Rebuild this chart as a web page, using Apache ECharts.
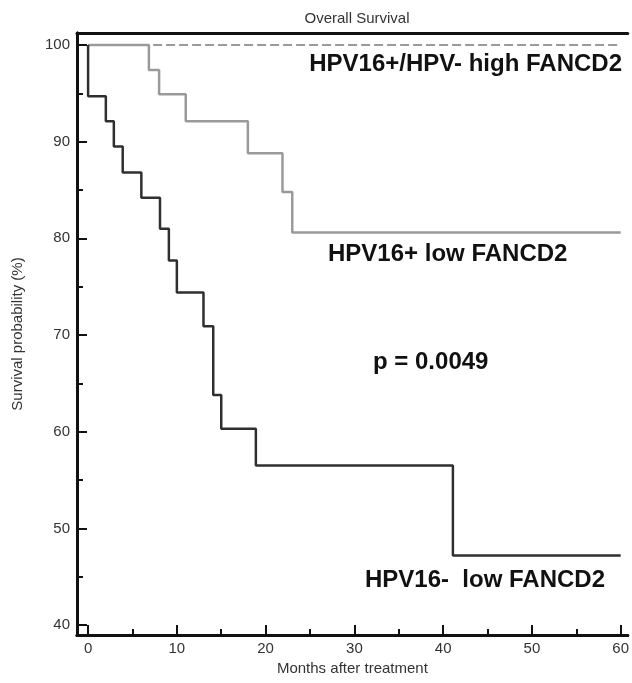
<!DOCTYPE html>
<html>
<head>
<meta charset="utf-8">
<script src="https://cdn.jsdelivr.net/npm/echarts@6/dist/echarts.min.js"></script>
<style>
html,body{margin:0;padding:0;background:#fff;}
#chart{width:632px;height:683px;}
</style>
</head>
<body>
<div id="chart"></div>
<script>
// Kaplan-Meier steps: [month of event, survival (%) after event]
var lowHpvNegTimes = [0, 0, 2, 2.9, 3.9, 6, 8.1, 9.1, 10, 13, 14.1, 15, 18.9, 41.1, 60];
var lowHpvNegSurv  = [100, 94.7, 92.1, 89.5, 86.8, 84.2, 81.0, 77.7, 74.4, 70.9, 63.8, 60.3, 56.5, 47.2, 47.2];

var lowHpvPosTimes = [0, 6.85, 8, 11, 18, 21.9, 23, 60];
var lowHpvPosSurv  = [100, 97.4, 94.9, 92.1, 88.8, 84.8, 80.6, 80.6];

var highTimes = [0, 60];
var highSurv  = [100, 100];

var xMajorTicks = [0, 10, 20, 30, 40, 50, 60];
var xMinorTicks = [5, 15, 25, 35, 45, 55];
var yMajorTicks = [40, 50, 60, 70, 80, 90, 100];
var yMinorTicks = [45, 55, 65, 75, 85, 95];

var titleText = 'Overall Survival';
var xName = 'Months after treatment';
var yName = 'Survival probability (%)';
var labelHigh = 'HPV16+/HPV- high FANCD2';
var labelPosLow = 'HPV16+ low FANCD2';
var labelNegLow = 'HPV16-  low FANCD2';
var pText = 'p = 0.0049';

function pairs(t, s) { return t.map(function (v, i) { return [v, s[i]]; }); }

var axisFont = '"Liberation Sans Narrow", "Arial Narrow", "Liberation Sans", Arial, sans-serif';
var X_MIN = -1.25, X_MAX = 60.8, Y_MIN = 38.97, Y_MAX = 101.24;

function xAxisDef(ticks, len, show) {
  return {
    type: 'value', min: X_MIN, max: X_MAX, position: 'bottom',
    axisLine: { show: true, onZero: false, lineStyle: { color: '#111', width: 3 } },
    axisTick: { show: true, inside: true, length: len, customValues: ticks, lineStyle: { color: '#111', width: 2 } },
    axisLabel: { show: show, customValues: ticks, margin: 6, color: '#333', fontSize: 15, fontFamily: axisFont },
    splitLine: { show: false },
    name: show ? xName : '', nameLocation: 'middle', nameGap: 24,
    nameTextStyle: { color: '#333', fontSize: 15, fontFamily: axisFont }
  };
}
function yAxisDef(ticks, len, show) {
  return {
    type: 'value', min: Y_MIN, max: Y_MAX, position: 'left',
    axisLine: { show: true, onZero: false, lineStyle: { color: '#111', width: 3 } },
    axisTick: { show: true, inside: true, length: len, customValues: ticks, lineStyle: { color: '#111', width: 2 } },
    axisLabel: { show: show, customValues: ticks, margin: 7, color: '#333', fontSize: 15, fontFamily: axisFont },
    splitLine: { show: false },
    name: show ? yName : '', nameLocation: 'middle', nameGap: 52, nameRotate: 90,
    nameTextStyle: { color: '#333', fontSize: 15, fontFamily: axisFont }
  };
}

var chart = echarts.init(document.getElementById('chart'), null, { renderer: 'canvas' });
var annoFont = 'bold 24px "Liberation Sans", Arial, sans-serif';
chart.setOption({
  backgroundColor: '#fff',
  animation: false,
  title: {
    text: titleText, left: 352, top: 6, textAlign: 'center',
    textStyle: { color: '#333', fontSize: 15, fontWeight: 'normal', fontFamily: axisFont }
  },
  grid: { left: 77, right: 1, top: 33, bottom: 48, containLabel: false },
  xAxis: [
    xAxisDef(xMajorTicks, 10, true),
    xAxisDef(xMinorTicks, 6, false),
    { type: 'value', min: X_MIN, max: X_MAX, position: 'top',
      axisLine: { show: true, onZero: false, lineStyle: { color: '#111', width: 3 } },
      axisTick: { show: false }, axisLabel: { show: false }, splitLine: { show: false } }
  ],
  yAxis: [
    yAxisDef(yMajorTicks, 10, true),
    yAxisDef(yMinorTicks, 6, false)
  ],
  series: [
    { type: 'line', name: labelHigh, data: pairs(highTimes, highSurv), showSymbol: false, symbol: 'none',
      lineStyle: { color: '#7a7a7a', width: 1.5, type: [9, 4] }, z: 1 },
    { type: 'line', name: labelPosLow, data: pairs(lowHpvPosTimes, lowHpvPosSurv), step: 'end', symbol: 'none',
      lineStyle: { color: '#9a9a9a', width: 2.5 }, z: 2 },
    { type: 'line', name: labelNegLow, data: pairs(lowHpvNegTimes, lowHpvNegSurv), step: 'end', symbol: 'none',
      lineStyle: { color: '#2f2f2f', width: 2.5 }, z: 3 }
  ],
  graphic: [
    { type: 'text', right: 10, top: 52, style: { text: labelHigh, font: annoFont, fill: '#111' } },
    { type: 'text', left: 328, top: 242, style: { text: labelPosLow, font: annoFont, fill: '#111' } },
    { type: 'text', left: 373, top: 350, style: { text: pText, font: annoFont, fill: '#111' } },
    { type: 'text', left: 365, top: 568, style: { text: labelNegLow, font: annoFont, fill: '#111' } }
  ]
});
</script>
</body>
</html>
